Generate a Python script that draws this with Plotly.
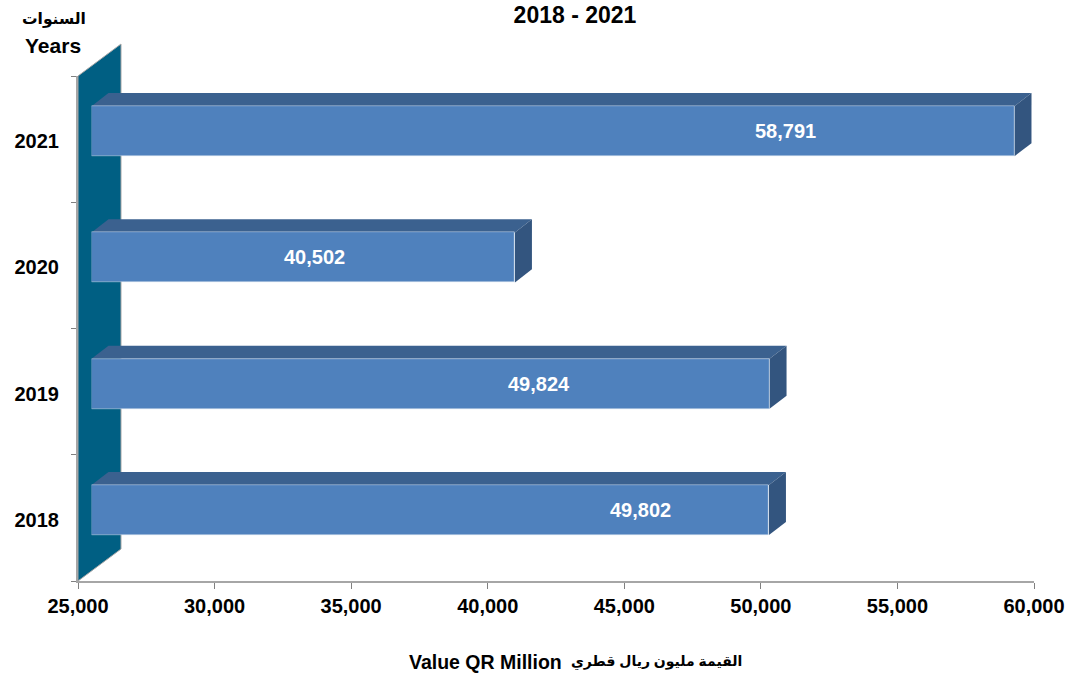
import plotly.graph_objects as go

# Data
years = ["2018", "2019", "2020", "2021"]
values = [49802, 49824, 40502, 58791]
x_ticks = [25000, 30000, 35000, 40000, 45000, 50000, 55000, 60000]
label_shift = [-128, -231, -200, -229]  # data label offset from bar end, px

W, H = 1070, 681
L, R, T, B = 78, 1034, 76, 581
DX, DY = 13.5, 8.0  # front-face offset
XMIN, XMAX = 25000, 60000
UX = (XMAX - XMIN) / (R - L)
UY = 4 / (B - T)
BAR = 50 * UY
DEPTH_X, DEPTH_Y = 17 * UX, 13 * UY
FONT = "Liberation Sans, Arial, DejaVu Sans"
FRONT, TOP, SIDE, WALL = "#4F81BD", "#3B618F", "#33557F", "#005F83"
EDGE = "#D5E0EE"


def px(x):
    return x / W


def py(y):
    return 1 - y / H


idx = list(range(len(years)))
fig = go.Figure()
# anchors the visible axes
fig.add_trace(go.Scatter(x=values, y=idx, mode="none", showlegend=False, hoverinfo="skip"))
fig.add_trace(go.Bar(
    y=idx, x=[v - XMIN for v in values], base=XMIN, orientation="h", width=BAR,
    xaxis="x2", yaxis="y2",
    marker=dict(color=FRONT, line=dict(color=EDGE, width=0.5)),
    showlegend=False, hoverinfo="skip",
))

shapes = [dict(
    type="path", xref="paper", yref="paper", layer="below",
    path=f"M {px(L)} {py(B)} L {px(121)} {py(549)} L {px(121)} {py(44)} L {px(L)} {py(T)} Z",
    fillcolor=WALL, line=dict(color="#A6A6A6", width=1),
)]
for i, v in zip(idx, values):
    t, b = i + BAR / 2, i - BAR / 2
    shapes.append(dict(
        type="path", xref="x2", yref="y2", layer="below",
        path=f"M {XMIN} {t} L {XMIN + DEPTH_X} {t + DEPTH_Y} L {v + DEPTH_X} {t + DEPTH_Y} L {v} {t} Z",
        fillcolor=TOP, line=dict(width=0),
    ))
    shapes.append(dict(
        type="path", xref="x2", yref="y2", layer="below",
        path=f"M {v} {t} L {v + DEPTH_X} {t + DEPTH_Y} L {v + DEPTH_X} {b + DEPTH_Y} L {v} {b} Z",
        fillcolor=SIDE, line=dict(width=0),
    ))

annotations = [dict(
    x=v, y=i, xref="x2", yref="y2", xshift=s, yshift=0, text=f"<b>{v:,}</b>", showarrow=False,
    xanchor="center", yanchor="middle",
    font=dict(family=FONT, size=20, color="white"),
) for i, v, s in zip(idx, values, label_shift)]
for text, ax, ay, size in [
    ("<b>السنوات</b>", 54, 19, 15.5),
    ("<b>Years</b>", 53, 46, 21),
    ("<b>Value QR Million</b>", 485, 662, 19.5),
    ("<b>القيمة مليون ريال قطري</b>", 656, 662, 14),
]:
    annotations.append(dict(
        xref="paper", yref="paper", x=px(ax), y=py(ay), text=text, showarrow=False,
        xanchor="center", yanchor="middle", font=dict(family=FONT, size=size, color="black"),
    ))

fig.update_layout(
    width=W, height=H, margin=dict(l=0, r=0, t=0, b=0), autosize=False,
    paper_bgcolor="white", plot_bgcolor="rgba(0,0,0,0)",
    font=dict(family=FONT, size=20, color="black"),
    title=dict(text="<b>2018 - 2021</b>", x=px(575), xanchor="center", y=py(15), yanchor="middle",
               font=dict(family=FONT, size=23, color="black"), automargin=False),
    xaxis=dict(domain=[px(L), px(R)], range=[XMIN, XMAX], tickvals=x_ticks, tickformat=",",
               ticks="outside", ticklen=6, tickcolor="#808080", showgrid=False, showline=True,
               linecolor="#A6A6A6", linewidth=2, anchor="y", zeroline=False, automargin=False,
               tickfont=dict(family=FONT, size=20, weight="bold", color="black")),
    yaxis=dict(domain=[py(B), py(T)], range=[-0.5, 3.5], tickvals=[i - 2 * UY for i in idx],
               ticktext=years, ticks="",
               showgrid=False, showline=True, linecolor="#A6A6A6", linewidth=2, anchor="x",
               zeroline=False, ticklabelstandoff=13, automargin=False,
               tickfont=dict(family=FONT, size=20, weight="bold", color="black"),
               minor=dict(tickvals=[-0.5, 0.5, 1.5, 2.5, 3.5], ticks="outside", ticklen=5,
                          tickcolor="#808080", showgrid=False)),
    xaxis2=dict(domain=[px(L + DX), px(R + DX)], range=[XMIN, XMAX], visible=False, anchor="y2",
                automargin=False),
    yaxis2=dict(domain=[py(B - DY), py(T - DY)], range=[-0.5, 3.5], visible=False, anchor="x2",
                automargin=False),
    shapes=shapes, annotations=annotations, bargap=0,
)
fig.write_html("out.html", config=dict(displayModeBar=False),
               post_script="document.body.style.margin='0';")
